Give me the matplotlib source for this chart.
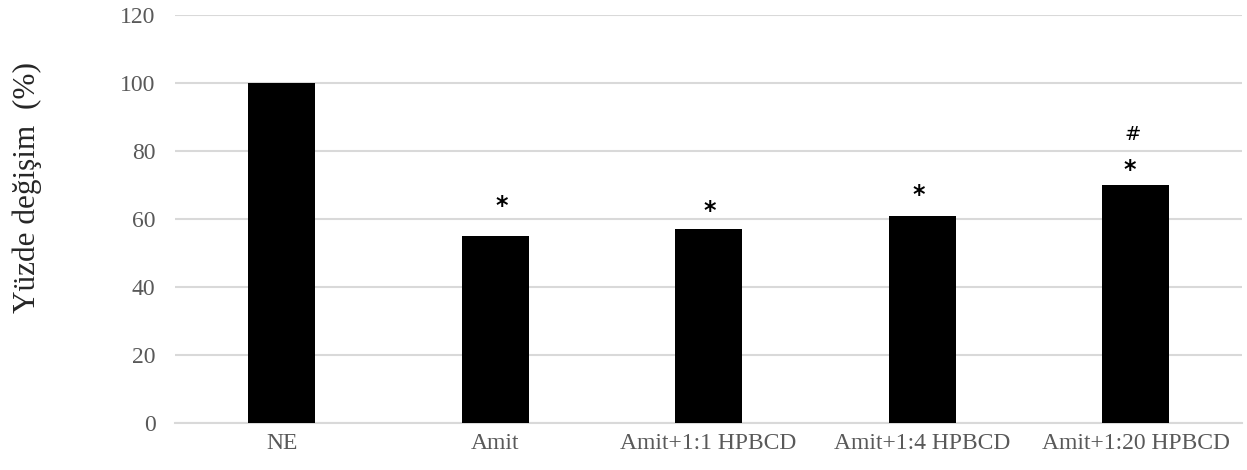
import matplotlib.pyplot as plt
import numpy as np

groups = ['NE', 'Amit', 'Amit+1:1 HPBCD', 'Amit+1:4 HPBCD', 'Amit+1:20 HPBCD']
percent_change = [100, 55, 57, 61, 70]
star_marks = ['', '*', '*', '*', '*']
hash_marks = ['', '', '', '', '#']
y_ticks = [0, 20, 40, 60, 80, 100, 120]

# placement of the significance marks (x shift in bar units, y lift in %)
star_dx = [0, 0.03, 0.007, -0.014, -0.026]
star_dy = [0, 8.7, 5.5, 6.1, 4.3]
hash_dx = [0, 0, 0, 0, -0.012]
hash_dy = [0, 0, 0, 0, 15.0]

fig = plt.figure(figsize=(12.47, 4.7), dpi=100)
ax = fig.add_axes([0.1403, 0.1, 0.856, 0.868])

x = np.arange(len(groups))
ax.bar(x, percent_change, width=0.315, color='black', zorder=3)

for i, val in enumerate(percent_change):
    if star_marks[i]:
        ax.text(x[i] + star_dx[i], val + star_dy[i], star_marks[i], ha='center', va='center',
                fontsize=17, fontweight='bold', family='DejaVu Sans')
    if hash_marks[i]:
        ax.text(x[i] + hash_dx[i], val + hash_dy[i], hash_marks[i], ha='center', va='center',
                fontsize=14, family='DejaVu Sans')

ax.set_xlim(-0.5, len(groups) - 0.5)
ax.set_ylim(0, 120)
ax.set_yticks(y_ticks)
ax.set_xticks(x)
ax.set_xticklabels(groups)
ax.yaxis.grid(True, color='#d9d9d9', linewidth=1.5, zorder=0)
ax.set_axisbelow(True)
for side in ['top', 'right', 'left']:
    ax.spines[side].set_visible(False)
ax.spines['bottom'].set_color('#d9d9d9')
ax.spines['bottom'].set_linewidth(1.5)
ax.tick_params(axis='both', length=0, labelsize=17, labelcolor='#595959')
ax.tick_params(axis='y', pad=14)
ax.tick_params(axis='x', pad=7)
for lbl in ax.get_xticklabels() + ax.get_yticklabels():
    lbl.set_family('Liberation Serif')

ax.set_ylabel('Yüzde değişim  (%)', family='Liberation Serif', fontsize=22.5,
              color='#262626')
ax.yaxis.set_label_coords(-0.1246, 0.578)

fig.savefig('out.png', dpi=100)
